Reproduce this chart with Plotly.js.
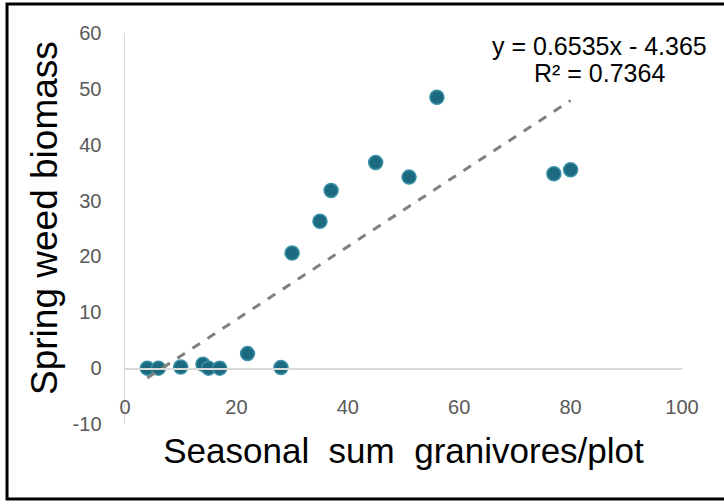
<!DOCTYPE html>
<html>
<head>
<meta charset="utf-8">
<script src="https://cdn.plot.ly/plotly-3.0.1.min.js"></script>
<style>html,body{margin:0;padding:0;background:#fff;}#chart{width:724px;height:504px;}</style>
</head>
<body>
<div id="chart"></div>
<script>
// Data
const granivores = [4, 6, 10, 14, 15, 17, 22, 28, 30, 35, 37, 45, 51, 56, 77, 80];
const weedBiomass = [0, 0, 0.2, 0.7, 0, 0, 2.6, 0.1, 20.6, 26.3, 31.8, 36.8, 34.2, 48.5, 34.8, 35.5];
const trendSlope = 0.6535;
const trendIntercept = -4.365;
const rSquared = 0.7364;
const xTickVals = [0, 20, 40, 60, 80, 100];
const yTickVals = [-10, 0, 10, 20, 30, 40, 50, 60];

const xMin = Math.min(...granivores), xMax = Math.max(...granivores);
const trendX = [xMin, xMax];
const trendY = trendX.map(v => trendSlope * v + trendIntercept);

const font = "Liberation Sans, Arial, sans-serif";

const traces = [
  {
    x: granivores, y: weedBiomass, type: 'scatter', mode: 'markers',
    marker: {size: 14, color: '#1c6a80', line: {color: '#3a90a6', width: 1.5}},
    hoverinfo: 'x+y', showlegend: false
  },
  {
    x: trendX, y: trendY, type: 'scatter', mode: 'lines',
    line: {color: '#808080', width: 3, dash: 'dash'},
    hoverinfo: 'skip', showlegend: false
  }
];

const yRange = [-10, 60];
const layout = {
  width: 724, height: 504,
  margin: {l: 125, r: 42, t: 33, b: 80},
  paper_bgcolor: '#ffffff', plot_bgcolor: '#ffffff',
  font: {family: font},
  xaxis: {
    range: [0, 100], tickvals: xTickVals, ticktext: xTickVals.map(String),
    showgrid: false, zeroline: false,
    showline: true, linecolor: '#d9d9d9', linewidth: 1.5, ticks: '',
    anchor: 'free', position: (0 - yRange[0]) / (yRange[1] - yRange[0]),
    tickfont: {size: 20, color: '#595959', family: font},
    ticklabelstandoff: 20,
    title: {text: 'Seasonal  sum  granivores/plot', font: {size: 35, color: '#000000', family: font}, standoff: 22}
  },
  yaxis: {
    range: yRange, tickvals: yTickVals, ticktext: yTickVals.map(String),
    showgrid: false, zeroline: false,
    showline: true, linecolor: '#d9d9d9', linewidth: 1.5, ticks: '',
    tickfont: {size: 20, color: '#595959', family: font},
    ticklabelstandoff: 18
  },
  annotations: [
    {
      xref: 'paper', yref: 'paper', x: -0.1436, y: 0.527, xanchor: 'center', yanchor: 'middle',
      text: 'Spring weed biomass', textangle: -90, showarrow: false,
      font: {size: 37, color: '#000000', family: font}
    },
    {
      xref: 'paper', yref: 'paper', x: 0.851, y: 0.967, xanchor: 'center', yanchor: 'middle',
      text: 'y = ' + trendSlope + 'x - ' + Math.abs(trendIntercept), showarrow: false,
      font: {size: 25, color: '#000000', family: font}
    },
    {
      xref: 'paper', yref: 'paper', x: 0.851, y: 0.897, xanchor: 'center', yanchor: 'middle',
      text: 'R² = ' + rSquared, showarrow: false,
      font: {size: 25, color: '#000000', family: font}
    }
  ],
  shapes: [
    {type: 'rect', xref: 'paper', yref: 'paper', x0: -0.2118, x1: 1.3, y0: -0.1918, y1: 1.0742,
     line: {color: '#000000', width: 3}, fillcolor: 'rgba(0,0,0,0)', layer: 'above'}
  ]
};

Plotly.newPlot('chart', traces, layout, {displayModeBar: false, staticPlot: true});
</script>
</body>
</html>
